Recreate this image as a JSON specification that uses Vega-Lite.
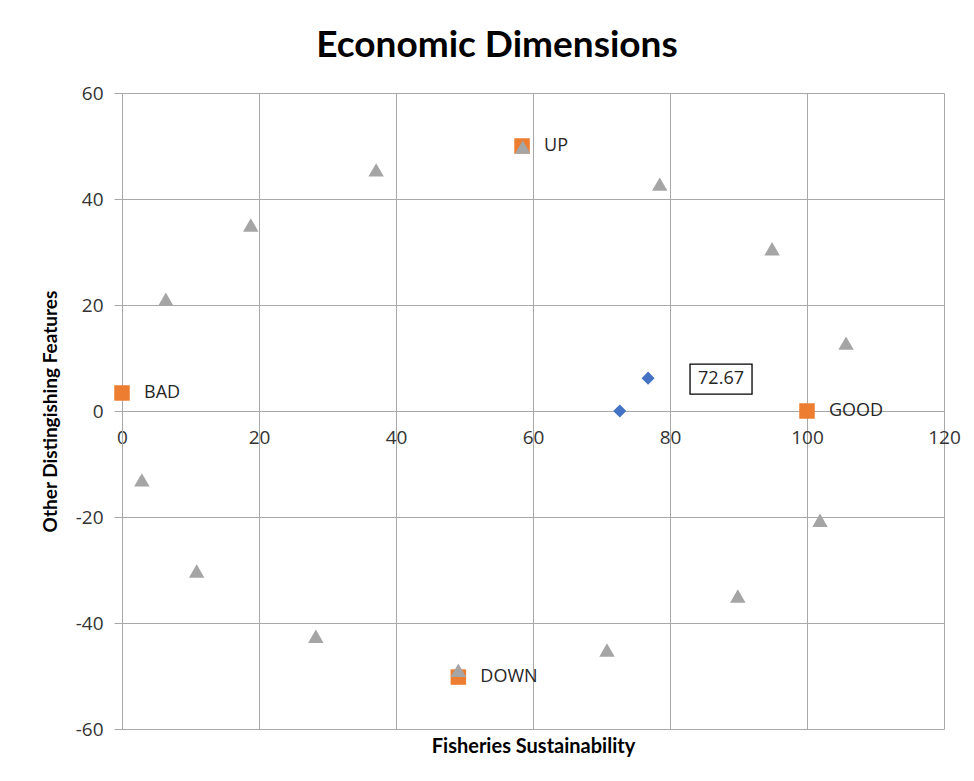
{
  "$schema": "https://vega.github.io/schema/vega-lite/v6.json",
  "width": 822,
  "height": 636,
  "autosize": {"type": "none"},
  "padding": {"left": 122, "top": 93, "right": 30, "bottom": 52},
  "background": "white",
  "title": {
    "text": "Economic Dimensions",
    "font": "Lato",
    "fontSize": 37,
    "fontWeight": "bold",
    "color": "#000000",
    "anchor": "middle",
    "dx": -36,
    "offset": 19
  },
  "config": {"view": {"stroke": null}},
  "datasets": {
    "fisheries": [
      {"x": 6.4, "y": 21.1},
      {"x": 18.8, "y": 35.1},
      {"x": 37.1, "y": 45.5},
      {"x": 58.5, "y": 49.8},
      {"x": 78.5, "y": 42.8},
      {"x": 94.9, "y": 30.6},
      {"x": 105.7, "y": 12.8},
      {"x": 101.9, "y": -20.6},
      {"x": 89.9, "y": -34.9},
      {"x": 70.8, "y": -45.1},
      {"x": 49.1, "y": -48.9},
      {"x": 28.3, "y": -42.5},
      {"x": 10.9, "y": -30.2},
      {"x": 2.9, "y": -13.0}
    ],
    "references": [
      {"x": 0, "y": 3.4, "label": "BAD"},
      {"x": 100, "y": 0, "label": "GOOD"},
      {"x": 58.4, "y": 50, "label": "UP"},
      {"x": 49.1, "y": -50.2, "label": "DOWN"}
    ],
    "result": [
      {"x": 72.67, "y": 0},
      {"x": 76.8, "y": 6.2}
    ],
    "callout": [
      {"x": 87.45, "y": 6.0, "value": "72.67"}
    ]
  },
  "encoding": {
    "x": {
      "field": "x",
      "type": "quantitative",
      "scale": {"domain": [0, 120], "nice": false, "zero": false},
      "axis": {
        "values": [0, 20, 40, 60, 80, 100, 120],
        "labelExpr": "'' + datum.value",
        "offset": -318,
        "ticks": false,
        "tickSize": 0,
        "domain": true,
        "domainColor": "#a8a8a8",
        "grid": true,
        "gridColor": "#a8a8a8",
        "labelFont": "Open Sans",
        "labelFontSize": 19,
        "labelColor": "#333333",
        "labelPadding": 17,
        "labelFlush": false,
        "title": "Fisheries Sustainability",
        "titleFont": "Lato",
        "titleFontSize": 20,
        "titleFontWeight": "bold",
        "titleColor": "#000000",
        "titleY": 335,
        "titleBaseline": "middle"
      }
    },
    "y": {
      "field": "y",
      "type": "quantitative",
      "scale": {"domain": [-60, 60], "nice": false, "zero": false},
      "axis": {
        "values": [-60, -40, -20, 0, 20, 40, 60],
        "labelExpr": "'' + datum.value",
        "tickSize": 8,
        "tickColor": "#a8a8a8",
        "domain": true,
        "domainColor": "#a8a8a8",
        "grid": true,
        "gridColor": "#a8a8a8",
        "labelFont": "Open Sans",
        "labelFontSize": 19,
        "labelColor": "#333333",
        "labelPadding": 11,
        "title": "Other Distingishing Features",
        "titleFont": "Lato",
        "titleFontSize": 19,
        "titleFontWeight": "bold",
        "titleColor": "#000000",
        "titleX": -72,
        "titleY": 318,
        "titleAngle": -90,
        "titleAlign": "center",
        "titleBaseline": "middle"
      }
    }
  },
  "layer": [
    {
      "data": {"name": "callout"},
      "mark": {
        "type": "rect",
        "fill": "white",
        "stroke": "#000000",
        "strokeWidth": 1.3,
        "xOffset": -31,
        "x2Offset": 31,
        "yOffset": -15,
        "y2Offset": 15
      },
      "encoding": {"x2": {"field": "x"}, "y2": {"field": "y"}}
    },
    {
      "data": {"name": "callout"},
      "mark": {
        "type": "text",
        "font": "Open Sans",
        "fontSize": 18,
        "color": "#262626",
        "align": "center",
        "baseline": "middle"
      },
      "encoding": {"text": {"field": "value"}}
    },
    {
      "data": {"name": "result"},
      "mark": {"type": "point", "shape": "diamond", "filled": true, "opacity": 1, "size": 170, "color": "#4472C4"}
    },
    {
      "data": {"name": "references"},
      "mark": {"type": "point", "shape": "square", "filled": true, "opacity": 1, "size": 240, "color": "#ED7D31"}
    },
    {
      "data": {"name": "fisheries"},
      "mark": {"type": "point", "shape": "triangle-up", "filled": true, "opacity": 1, "size": 240, "color": "#A5A5A5"}
    },
    {
      "data": {"name": "references"},
      "mark": {
        "type": "text",
        "font": "Open Sans",
        "fontSize": 18,
        "color": "#262626",
        "align": "left",
        "baseline": "middle",
        "dx": 22
      },
      "encoding": {"text": {"field": "label"}}
    }
  ]
}
